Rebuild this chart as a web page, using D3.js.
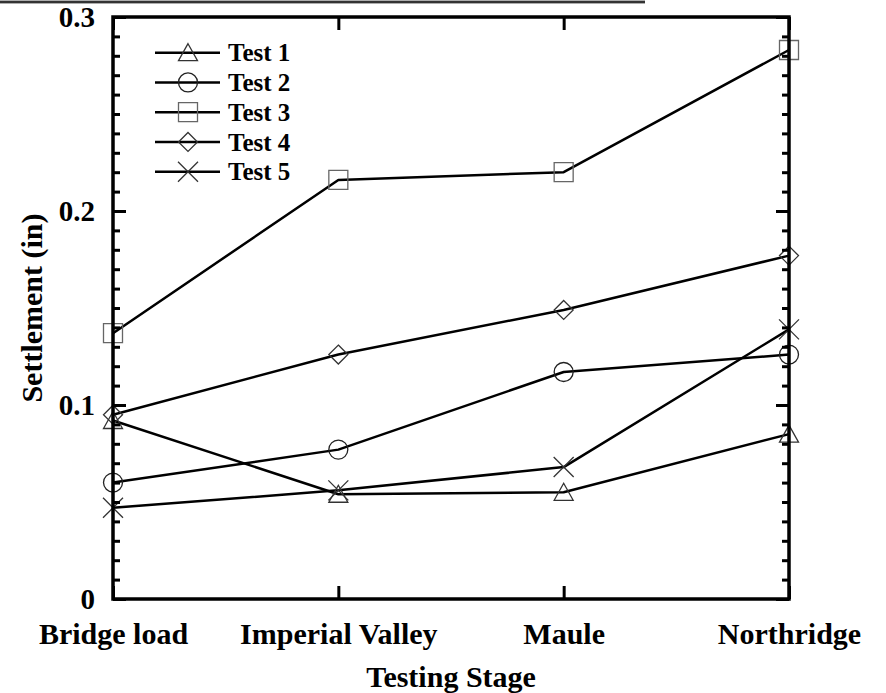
<!DOCTYPE html>
<html><head><meta charset="utf-8">
<script src="https://cdn.jsdelivr.net/npm/d3@7"></script>
<style>
body{margin:0;background:#fff}
svg{display:block}
text{font-family:"Liberation Serif","Times New Roman",serif;font-weight:bold;fill:#000}
</style>
</head><body>
<svg id="chart" width="886" height="693"></svg>
<script>
// ---- data ----
const categories = ["Bridge load", "Imperial Valley", "Maule", "Northridge"];
const seriesNames = ["Test 1", "Test 2", "Test 3", "Test 4", "Test 5"];
const test1 = [0.092, 0.054, 0.055, 0.085];
const test2 = [0.060, 0.077, 0.117, 0.126];
const test3 = [0.137, 0.216, 0.220, 0.283];
const test4 = [0.095, 0.126, 0.149, 0.177];
const test5 = [0.047, 0.056, 0.068, 0.139];
const markerTypes = ["triangle", "circle", "square", "diamond", "cross"];
const yMajorTicks = [0, 0.1, 0.2, 0.3];
const yTickLabels = ["0", "0.1", "0.2", "0.3"];
const xTitle = "Testing Stage";
const yTitle = "Settlement (in)";

const seriesValues = [test1, test2, test3, test4, test5];
const series = seriesNames.map((n, i) => ({name: n, marker: markerTypes[i], values: seriesValues[i]}));

// ---- layout ----
const L = 113, R = 789, T = 17, B = 599;
const svg = d3.select("#chart");
const x = d3.scalePoint().domain(categories).range([L, R]);
const y = d3.scaleLinear().domain([0, 0.3]).range([B, T]);

// decorative top rule
svg.append("rect").attr("x", 0).attr("y", 0.6).attr("width", 645).attr("height", 2.8).attr("fill", "#333");

// markers
function markerPath(type) {
  const p = d3.path();
  if (type === "triangle") { p.moveTo(0, -9); p.lineTo(9.5, 8); p.lineTo(-9.5, 8); p.closePath(); }
  else if (type === "circle") { p.moveTo(9.5, 0); p.arc(0, 0, 9.5, 0, 2 * Math.PI); }
  else if (type === "square") { p.rect(-9.5, -9.5, 19, 19); }
  else if (type === "diamond") { p.moveTo(0, -9.5); p.lineTo(9.5, 0); p.lineTo(0, 9.5); p.lineTo(-9.5, 0); p.closePath(); }
  else if (type === "cross") { p.moveTo(-10, -10); p.lineTo(10, 10); p.moveTo(10, -10); p.lineTo(-10, 10); }
  return p.toString();
}
const markerStroke = {triangle: "#333", circle: "#222", square: "#666", diamond: "#333", cross: "#333"};

// lines
const line = d3.line().x((d, i) => x(categories[i])).y(d => y(d));
const g = svg.append("g");
series.forEach(s => {
  g.append("path").attr("d", line(s.values)).attr("fill", "none")
    .attr("stroke", "#000").attr("stroke-width", 2.5).attr("stroke-linejoin", "round");
});
series.forEach(s => {
  g.selectAll(null).data(s.values).enter().append("path")
    .attr("transform", (d, i) => `translate(${x(categories[i])},${y(d)})`)
    .attr("d", markerPath(s.marker)).attr("fill", "none")
    .attr("stroke", markerStroke[s.marker]).attr("stroke-width", 1.3);
});

// axes (ticks inside)
const minorTicks = y.ticks(30);
function styleAxis(sel) {
  sel.select(".domain").remove();
  sel.selectAll(".tick line").attr("stroke", "#000").attr("stroke-width", 3);
}
const leftMinor = svg.append("g").attr("transform", `translate(${L},0)`)
  .call(d3.axisLeft(y).tickValues(minorTicks).tickSize(-7).tickFormat(""));
styleAxis(leftMinor);
const leftMajor = svg.append("g").attr("transform", `translate(${L},0)`)
  .call(d3.axisLeft(y).tickValues(yMajorTicks).tickSize(-13).tickPadding(18)
    .tickFormat((d, i) => yTickLabels[i]));
styleAxis(leftMajor);
leftMajor.selectAll("text").style("font-size", "29px").attr("dy", "0.34em");

const rightMinor = svg.append("g").attr("transform", `translate(${R},0)`)
  .call(d3.axisRight(y).tickValues(minorTicks).tickSize(-7).tickFormat(""));
styleAxis(rightMinor);
const rightMajor = svg.append("g").attr("transform", `translate(${R},0)`)
  .call(d3.axisRight(y).tickValues(yMajorTicks).tickSize(-13).tickFormat(""));
styleAxis(rightMajor);

const bottomAxis = svg.append("g").attr("transform", `translate(0,${B})`)
  .call(d3.axisBottom(x).tickSize(-13).tickPadding(24));
styleAxis(bottomAxis);
bottomAxis.selectAll("text").style("font-size", "30px").attr("dy", "0.71em");
const topAxis = svg.append("g").attr("transform", `translate(0,${T})`)
  .call(d3.axisTop(x).tickSize(-13).tickFormat(""));
styleAxis(topAxis);

// frame
svg.append("rect").attr("x", L).attr("y", T).attr("width", R - L).attr("height", B - T)
  .attr("fill", "none").attr("stroke", "#000").attr("stroke-width", 3.5);

// titles
svg.append("text").attr("x", (L + R) / 2).attr("y", 687).attr("text-anchor", "middle")
  .style("font-size", "30px").text(xTitle);
svg.append("text").attr("transform", `translate(42,${(T + B) / 2}) rotate(-90)`)
  .attr("text-anchor", "middle").style("font-size", "30px").text(yTitle);

// legend
const legend = svg.append("g");
series.forEach((s, i) => {
  const ly = 52.7 + i * 29.75;
  legend.append("line").attr("x1", 155).attr("x2", 220).attr("y1", ly).attr("y2", ly)
    .attr("stroke", "#000").attr("stroke-width", 2.5);
  legend.append("path").attr("transform", `translate(188,${ly})`).attr("d", markerPath(s.marker))
    .attr("fill", "none").attr("stroke", markerStroke[s.marker]).attr("stroke-width", 1.3);
  legend.append("text").attr("x", 228).attr("y", ly).attr("dy", "0.35em")
    .style("font-size", "25px").text(s.name);
});
</script>
</body></html>
